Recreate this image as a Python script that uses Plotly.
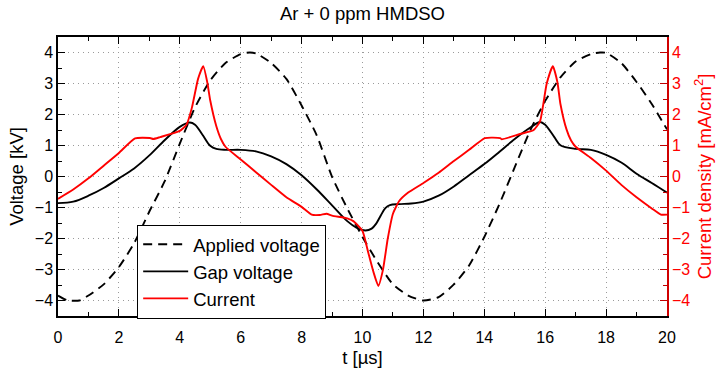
import plotly.graph_objects as go

# Applied voltage [kV]
t_applied = [0, 0.3, 0.7, 1, 1.5, 2, 2.5, 3, 3.5, 4, 4.5, 5, 5.5, 6, 6.3, 6.5, 7, 7.5, 8, 8.5, 9,
             9.5, 10, 10.5, 11, 11.5, 12, 12.5, 13, 13.5, 14, 14.5, 15, 15.5, 16, 16.5, 17, 17.5,
             17.8, 18, 18.5, 19, 19.5, 20]
v_applied = [-3.84, -3.99, -4.0, -3.84, -3.48, -2.92, -2.15, -1.13, -0.16, 1.06, 2.23, 3.10, 3.66,
             3.95, 4.0, 3.97, 3.66, 3.15, 2.29, 1.32, -0.01, -1.03, -1.95, -2.77, -3.48, -3.84,
             -4.0, -3.89, -3.48, -2.87, -1.95, -0.88, 0.30, 1.47, 2.44, 3.20, 3.71, 3.95, 4.0,
             3.99, 3.66, 3.05, 2.34, 1.52]

# Gap voltage [kV]
t_gap = [0, 0.5, 1, 1.5, 2, 2.5, 3, 3.5, 4, 4.33, 4.5, 4.75, 5, 5.2, 5.5, 6, 6.5, 7, 7.5, 8, 8.5,
         9, 9.5, 9.8, 10.1, 10.3, 10.45, 10.6, 10.75, 10.9, 11.2, 11.6, 12, 12.5, 13, 13.5, 14,
         14.5, 15, 15.5, 15.83, 16, 16.3, 16.5, 17, 17.5, 18, 18.5, 19, 19.5, 20]
v_gap = [-0.86, -0.81, -0.62, -0.37, -0.06, 0.26, 0.68, 1.17, 1.60, 1.74, 1.67, 1.34, 0.99, 0.89,
         0.86, 0.86, 0.81, 0.65, 0.40, 0.04, -0.42, -0.93, -1.44, -1.65, -1.74, -1.68, -1.52,
         -1.26, -1.02, -0.92, -0.89, -0.87, -0.81, -0.62, -0.32, 0.04, 0.40, 0.80, 1.21, 1.57,
         1.76, 1.67, 1.27, 1.01, 0.89, 0.86, 0.70, 0.45, 0.09, -0.21, -0.52]

# Current density [mA/cm^2]
t_cur = [0, 0.5, 1, 1.5, 2, 2.53, 3.02, 3.13, 3.35, 4, 4.22, 4.4, 4.6, 4.77, 4.9, 5.0, 5.2, 5.35,
         5.5, 6, 6.5, 7, 7.5, 8, 8.33, 8.6, 8.82, 9.0, 9.5, 9.7, 10.0, 10.18, 10.35, 10.52, 10.67,
         10.83, 11.0, 11.2, 11.5, 12, 12.5, 13, 13.5, 14.02, 14.52, 14.57, 15.17, 15.61, 15.83,
         16.05, 16.25, 16.4, 16.5, 16.7, 16.85, 17, 17.5, 18, 18.5, 19, 19.5, 19.8, 20]
i_cur = [-0.72, -0.42, -0.06, 0.35, 0.76, 1.23, 1.24, 1.21, 1.27, 1.47, 1.67, 2.23, 3.15, 3.56,
         3.05, 2.45, 1.62, 1.21, 0.96, 0.55, 0.14, -0.27, -0.67, -0.98, -1.23, -1.24, -1.20,
         -1.26, -1.35, -1.44, -1.76, -2.42, -3.05, -3.53, -3.02, -2.0, -1.2, -0.8, -0.52, -0.21,
         0.12, 0.50, 0.86, 1.24, 1.24, 1.20, 1.37, 1.49, 1.78, 3.0, 3.56, 3.05, 2.34, 1.52, 1.16,
         0.96, 0.60, 0.19, -0.27, -0.67, -1.03, -1.23, -1.23]

x_ticks = [0, 2, 4, 6, 8, 10, 12, 14, 16, 18, 20]
y_ticks = [-4, -3, -2, -1, 0, 1, 2, 3, 4]

FONT = "Liberation Sans, Arial, Helvetica, sans-serif"
GRID = "#9a9a9a"

fig = go.Figure()
fig.add_trace(go.Scatter(x=t_applied, y=v_applied, name="Applied voltage", mode="lines",
                         line=dict(color="black", width=1.9, dash="9px,6px", shape="spline",
                                   smoothing=0.6),
                         legendgroup="a"))
fig.add_trace(go.Scatter(x=t_gap, y=v_gap, name="Gap voltage", mode="lines",
                         line=dict(color="black", width=1.9, shape="spline", smoothing=0.9),
                         legendgroup="b"))
fig.add_trace(go.Scatter(x=t_cur, y=i_cur, name="Current", mode="lines", yaxis="y2",
                         line=dict(color="#ff0000", width=1.9, shape="spline", smoothing=0.5),
                         legendgroup="c"))

fig.update_layout(
    width=724, height=377,
    margin=dict(l=58, r=57, t=37, b=45),
    paper_bgcolor="white", plot_bgcolor="white",
    font=dict(family=FONT, size=16, color="black"),
    title=dict(text="Ar + 0 ppm HMDSO", x=0.5, xanchor="center", xref="paper",
               y=1 - 14 / 377, yref="container", yanchor="middle",
               font=dict(size=18.5, family=FONT)),
    showlegend=True,
    legend=dict(x=0.130, y=0.327, xanchor="left", yanchor="top", bgcolor="white",
                bordercolor="black", borderwidth=1, font=dict(size=18.5, family=FONT),
                traceorder="grouped", tracegroupgap=0, itemwidth=45),
    xaxis=dict(range=[0, 20], tickvals=x_ticks, ticks="inside", ticklen=7, tickwidth=1,
               tickcolor="black", showline=True, linecolor="black", linewidth=1.5,
               mirror="ticks", showgrid=True, gridcolor=GRID, griddash="1px,4px", gridwidth=1,
               zeroline=False, ticklabelstandoff=6,
               minor=dict(dtick=1, ticks="inside", ticklen=4, tickcolor="black", showgrid=False),
               title=dict(text="t [µs]", font=dict(size=18.5), standoff=6)),
    yaxis=dict(range=[-4.5, 4.5], tickvals=y_ticks, ticks="inside", ticklen=7, tickwidth=1,
               tickcolor="black", showline=True, linecolor="black", linewidth=1.5,
               showgrid=True, gridcolor=GRID, griddash="1px,4px", gridwidth=1, zeroline=False,
               minor=dict(dtick=0.5, ticks="inside", ticklen=4, tickcolor="black",
                          showgrid=False),
               title=dict(text="Voltage [kV]", font=dict(size=18.5), standoff=6)),
    yaxis2=dict(range=[-4.5, 4.5], tickvals=y_ticks, overlaying="y", side="right",
                ticks="inside", ticklen=7, tickwidth=1, tickcolor="#c00000",
                showline=True, linecolor="#d00000", linewidth=1.5, showgrid=False,
                zeroline=False, tickfont=dict(color="#ff0000"),
                minor=dict(dtick=0.5, ticks="inside", ticklen=4, tickcolor="#c00000",
                           showgrid=False),
                title=dict(text="Current density [mA/cm<sup>2</sup>]",
                           font=dict(size=18.5, color="#ff0000"), standoff=9)),
)

fig.write_html("out.html")
